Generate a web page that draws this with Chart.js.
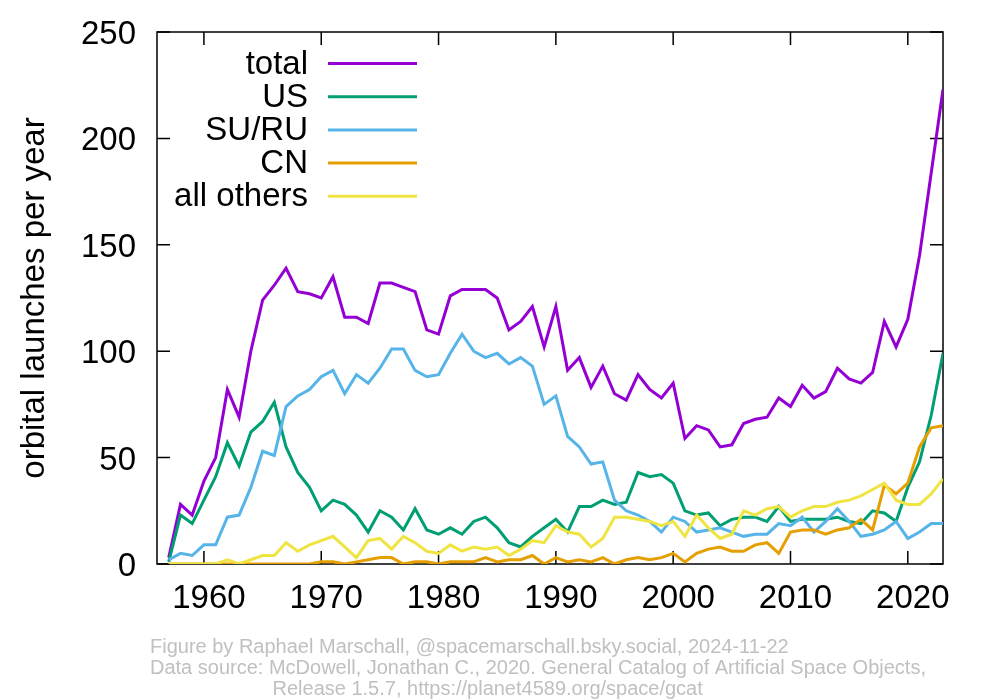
<!DOCTYPE html>
<html>
<head>
<meta charset="utf-8">
<script src="https://cdn.jsdelivr.net/npm/chart.js@4.4.1/dist/chart.umd.min.js"></script>
<style>
  html, body { margin: 0; padding: 0; background: #fff; }
  #wrap { width: 1000px; height: 700px; }
</style>
</head>
<body>
<div id="wrap"><canvas id="launches" width="1000" height="700"></canvas></div>
<script>
// orbital launches per year
const years = [1957, 1958, 1959, 1960, 1961, 1962, 1963, 1964, 1965, 1966,
  1967, 1968, 1969, 1970, 1971, 1972, 1973, 1974, 1975, 1976,
  1977, 1978, 1979, 1980, 1981, 1982, 1983, 1984, 1985, 1986,
  1987, 1988, 1989, 1990, 1991, 1992, 1993, 1994, 1995, 1996,
  1997, 1998, 1999, 2000, 2001, 2002, 2003, 2004, 2005, 2006,
  2007, 2008, 2009, 2010, 2011, 2012, 2013, 2014, 2015, 2016,
  2017, 2018, 2019, 2020, 2021, 2022, 2023];

const total = [3, 28, 23, 39, 50, 82, 69, 100, 124, 131,
  139, 128, 127, 125, 135, 116, 116, 113, 132, 132,
  130, 128, 110, 108, 126, 129, 129, 129, 125, 110,
  114, 121, 102, 121, 91, 97, 83, 93, 80, 77,
  89, 82, 78, 85, 59, 65, 63, 55, 56, 66,
  68, 69, 78, 74, 84, 78, 81, 92, 87, 85,
  90, 114, 102, 115, 145, 184, 223];

const us = [1, 23, 19, 30, 41, 57, 46, 62, 67, 76,
  55, 43, 36, 25, 30, 28, 23, 15, 25, 22,
  16, 26, 16, 14, 17, 14, 20, 22, 17, 10,
  8, 13, 17, 21, 15, 27, 27, 30, 28, 29,
  43, 41, 42, 38, 25, 23, 24, 18, 21, 22,
  22, 20, 27, 20, 21, 21, 21, 22, 20, 19,
  25, 24, 20, 36, 48, 70, 99];

const suru = [2, 5, 4, 9, 9, 22, 23, 36, 53, 51,
  74, 79, 82, 88, 91, 80, 89, 85, 92, 101,
  101, 91, 88, 89, 99, 108, 100, 97, 99, 94,
  97, 93, 75, 79, 60, 55, 47, 48, 30, 25,
  23, 20, 15, 22, 20, 15, 16, 17, 15, 13,
  14, 14, 19, 18, 22, 15, 20, 26, 20, 13,
  14, 16, 20, 12, 15, 19, 19];

const cn = [0, 0, 0, 0, 0, 0, 0, 0, 0, 0,
  0, 0, 0, 1, 1, 0, 1, 2, 3, 3,
  0, 1, 1, 0, 1, 1, 1, 3, 1, 2,
  2, 4, 0, 3, 1, 2, 1, 3, 0, 2,
  3, 2, 3, 5, 1, 5, 7, 8, 6, 6,
  9, 10, 5, 15, 16, 16, 14, 16, 17, 21,
  16, 37, 33, 38, 55, 64, 65];

const others = [0, 0, 0, 0, 0, 2, 0, 2, 4, 4,
  10, 6, 9, 11, 13, 8, 3, 11, 12, 7,
  13, 10, 6, 5, 9, 6, 8, 7, 8, 4,
  7, 11, 10, 18, 15, 14, 8, 12, 22, 22,
  21, 20, 18, 20, 13, 23, 17, 12, 14, 25,
  23, 26, 27, 22, 25, 27, 27, 29, 30, 32,
  35, 38, 30, 28, 28, 33, 40];

const seriesNames = ['total', 'US', 'SU/RU', 'CN', 'all others'];
const seriesValues = [total, us, suru, cn, others];
const seriesColors = ['#9400d3', '#009e73', '#56b4e9', '#e69f00', '#f0e442'];

const xTicks = [1960, 1970, 1980, 1990, 2000, 2010, 2020];
const yTicks = [0, 50, 100, 150, 200, 250];

const footerLines = [
  'Figure by Raphael Marschall, @spacemarschall.bsky.social, 2024-11-22',
  'Data source: McDowell, Jonathan C., 2020. General Catalog of Artificial Space Objects,',
  'Release 1.5.7, https://planet4589.org/space/gcat'
];

const FONT = '"Liberation Sans", Arial, Helvetica, sans-serif';
const BIG = 33;

// gnuplot style box with inward ticks on all four sides
const framePlugin = {
  id: 'frame',
  beforeDatasetsDraw(chart) {
    const { ctx, chartArea: a, scales: { x, y } } = chart;
    const tick = 13;
    ctx.save();
    ctx.strokeStyle = '#000';
    ctx.lineWidth = 1.5;
    ctx.strokeRect(a.left, a.top, a.right - a.left, a.bottom - a.top);
    ctx.beginPath();
    xTicks.forEach(v => {
      const px = x.getPixelForValue(v);
      ctx.moveTo(px, a.bottom); ctx.lineTo(px, a.bottom - tick);
      ctx.moveTo(px, a.top); ctx.lineTo(px, a.top + tick);
    });
    yTicks.forEach(v => {
      const py = y.getPixelForValue(v);
      ctx.moveTo(a.left, py); ctx.lineTo(a.left + tick, py);
      ctx.moveTo(a.right, py); ctx.lineTo(a.right - tick, py);
    });
    ctx.stroke();
    ctx.restore();
  }
};

// key in the top left: label right aligned, sample line to its right
const keyPlugin = {
  id: 'key',
  afterDatasetsDraw(chart) {
    const { ctx } = chart;
    ctx.save();
    ctx.font = BIG + 'px ' + FONT;
    ctx.textAlign = 'right';
    ctx.textBaseline = 'middle';
    chart.data.datasets.forEach((ds, i) => {
      const rowY = 63.5 + i * 33.2;
      ctx.fillStyle = '#000';
      ctx.fillText(ds.label, 308, rowY + 1);
      ctx.strokeStyle = ds.borderColor;
      ctx.lineWidth = 3;
      ctx.beginPath();
      ctx.moveTo(328, rowY);
      ctx.lineTo(417, rowY);
      ctx.stroke();
    });
    ctx.restore();
  }
};

const footerPlugin = {
  id: 'footer',
  afterDraw(chart) {
    const { ctx } = chart;
    ctx.save();
    ctx.font = '20px ' + FONT;
    ctx.fillStyle = '#c0c0c0';
    ctx.textAlign = 'left';
    ctx.textBaseline = 'alphabetic';
    ctx.fillText(footerLines[0], 150, 652.5);
    ctx.fillText(footerLines[1], 150, 673.5);
    ctx.fillText(footerLines[2], 272.5, 694.5);
    ctx.restore();
  }
};

new Chart(document.getElementById('launches'), {
  type: 'line',
  data: {
    datasets: seriesNames.map((name, i) => ({
      label: name,
      data: years.map((yr, j) => ({ x: yr, y: seriesValues[i][j] })),
      borderColor: seriesColors[i],
      backgroundColor: seriesColors[i],
      borderWidth: 3,
      borderJoinStyle: 'miter',
      pointRadius: 0,
      tension: 0,
      fill: false,
      order: seriesNames.length - i
    }))
  },
  options: {
    responsive: false,
    animation: false,
    devicePixelRatio: 1,
    layout: { padding: { left: 0, top: 32, right: 57, bottom: 0 } },
    plugins: {
      legend: { display: false },
      tooltip: { enabled: false }
    },
    scales: {
      x: {
        type: 'linear',
        min: 1956,
        max: 2023,
        grid: { display: false, drawTicks: false },
        border: { display: false },
        ticks: {
          color: '#000',
          font: { family: FONT, size: BIG },
          padding: 15,
          labelOffset: 5,
          maxRotation: 0,
          autoSkip: false,
          callback: v => String(v)
        },
        afterBuildTicks: s => { s.ticks = xTicks.map(v => ({ value: v })); },
        afterFit: s => {
          s.height = 136;
          s.paddingLeft = 0;
          s.paddingRight = 0;
        }
      },
      y: {
        min: 0,
        max: 250,
        grid: { display: false, drawTicks: false },
        border: { display: false },
        ticks: {
          color: '#000',
          font: { family: FONT, size: BIG },
          padding: 21,
          labelOffset: 3
        },
        afterBuildTicks: s => { s.ticks = yTicks.map(v => ({ value: v })); },
        title: {
          display: true,
          text: 'orbital launches per year',
          color: '#000',
          font: { family: FONT, size: BIG },
          padding: { top: 15, bottom: 0 }
        },
        afterFit: s => {
          s.width = 157;
          s.paddingTop = 0;
          s.paddingBottom = 0;
        }
      }
    }
  },
  plugins: [framePlugin, keyPlugin, footerPlugin]
});
</script>
</body>
</html>
